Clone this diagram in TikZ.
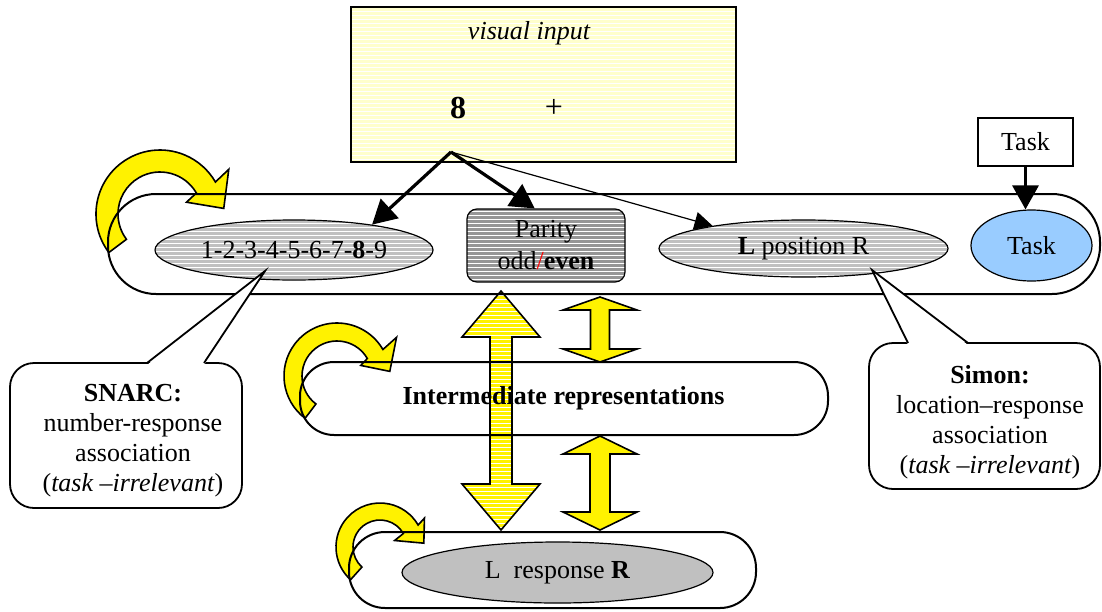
\documentclass[tikz,border=0pt]{standalone}
\usepackage{fontspec}
\setmainfont{Liberation Serif}
\usetikzlibrary{shapes.geometric,arrows.meta,patterns.meta}

\definecolor{inputyellow}{HTML}{FFFFCC}
\definecolor{silverfill}{HTML}{C0C0C0}
\definecolor{paritygray}{HTML}{969696}
\definecolor{taskblue}{HTML}{99CCFF}

\newcommand{\curlarrow}[6]{%
  \begin{scope}[shift={(#1)}]
    \filldraw[curl] (#4:#2) arc[start angle=#4, end angle=30, radius=#2]
      -- (33:#5) -- (5:#2) -- (24:#6) -- (30:#3)
      arc[start angle=30, end angle=#4, radius=#3] -- cycle;
  \end{scope}}

\newcommand{\blockarrow}[7]{%
  \path[#1] (#2,#3) -- ({#2+#6},{#3-#5}) -- ({#2+#7},{#3-#5}) -- ({#2+#7},{#4+#5})
    -- ({#2+#6},{#4+#5}) -- (#2,#4) -- ({#2-#6},{#4+#5}) -- ({#2-#7},{#4+#5})
    -- ({#2-#7},{#3-#5}) -- ({#2-#6},{#3-#5}) -- cycle;}

\begin{document}
\begin{tikzpicture}[x=0.5pt,y=0.5pt,
    every node/.style={font=\fontsize{13}{15}\selectfont},
    striped/.style={preaction={fill=#1},pattern={Lines[angle=0,distance=2pt,line width=0.2pt]},pattern color=white},
    module/.style={draw,line width=1pt},
    field/.style={draw,ellipse,line width=0.6pt,inner sep=0pt},
    curl/.style={fill=yellow,draw,line width=0.8pt},
    balloon/.style={draw,fill=white,line width=0.9pt,rounded corners=12pt},
    thickarrow/.style={-{Triangle[length=12pt,width=13pt]},line width=1.6pt},
    thinarrow/.style={-{Triangle[length=9pt,width=9pt]},line width=0.6pt}]
\useasboundingbox (0,0) rectangle (1102,-611);

\node[draw,line width=1pt,striped=inputyellow,minimum width=192.5pt,minimum height=77.5pt] (input) at (543.5,-84.5) {};
\node[font=\fontsize{13}{15}\selectfont\itshape] (vis) at (529,-33) {visual input};
\node[font=\fontsize{16}{18}\selectfont\bfseries] (eight) at (458,-108) {8};
\node[font=\fontsize{16}{18}\selectfont] (plus) at (554,-108) {+};
\coordinate (src) at (451,-152);

\curlarrow{160,-214}{64}{42}{217}{82}{29}
\curlarrow{337,-376}{53}{35}{233}{71}{26}
\curlarrow{380,-547}{44}{27}{228}{53}{16}

\blockarrow{striped=yellow,draw,line width=0.8pt}{501}{-291}{-530}{46}{39}{11}
\blockarrow{fill=yellow,draw,line width=0.8pt}{600}{-297}{-362}{13}{37}{9.5}
\blockarrow{fill=yellow,draw,line width=0.8pt}{600}{-436}{-530}{18}{37}{10}

\draw[module,rounded corners=24pt] (108,-194) rectangle (1100,-294);
\draw[module,rounded corners=17pt] (300,-362) rectangle (828,-435);
\draw[module,rounded corners=18pt] (349,-532) rectangle (756,-608);

\node[field,striped=silverfill,minimum width=139pt,minimum height=30pt] (numline) at (294,-250) {1-2-3-4-5-6-7-\textbf{8}-9};
\node[draw,line width=0.6pt,rounded corners=5pt,striped=paritygray,minimum width=79pt,minimum height=36.5pt,align=center,inner sep=0pt,font=\fontsize{13}{16}\selectfont] (parity) at (546,-245.5) {Parity\\odd{\color{red}/}\textbf{even}};
\node[field,striped=silverfill,minimum width=144.5pt,minimum height=28.5pt] (lpos) at (803.5,-248.5) {\textbf{L} position R};
\node[field,fill=taskblue,minimum width=60.5pt,minimum height=35.5pt] (taskell) at (1031.5,-245.5) {Task};
\node[draw,line width=0.8pt,minimum width=47.5pt,minimum height=24pt] (taskbox) at (1025.5,-142) {Task};
\node[field,fill=silverfill,minimum width=155.5pt,minimum height=30.5pt] (resp) at (557.5,-572.5) {L\ \ response \textbf{R}};

\path[thickarrow] (src) edge (numline.18)
                  (src) edge (parity.107);
\path[thinarrow] (src) edge (lpos.166);
\draw[thickarrow] (taskbox.south) -- (taskbox.south |- taskell.north);

\coordinate (snarctip) at (265,-271);
\draw[balloon] (10,-363) rectangle (242,-508);
\fill[white] (147,-365) -- (snarctip) -- (204,-365) -- cycle;
\draw[line width=0.9pt] (147,-363) -- (snarctip) -- (204,-363);
\node[align=center] (snarc) at (133,-441) {\textbf{SNARC:}\\number-response\\association\\(\textit{task –irrelevant})};

\coordinate (simontip) at (872,-270);
\draw[balloon] (869,-343) rectangle (1100,-489);
\fill[white] (908,-345) -- (simontip) -- (968,-345) -- cycle;
\draw[line width=0.9pt] (908,-343) -- (simontip) -- (968,-343);
\node[align=center] (simon) at (990,-422) {\textbf{Simon:}\\location–response\\association\\(\textit{task –irrelevant})};

\node[font=\fontsize{13}{15}\selectfont\bfseries] (inter) at (563.5,-398) {Intermediate representations};
\end{tikzpicture}
\end{document}
